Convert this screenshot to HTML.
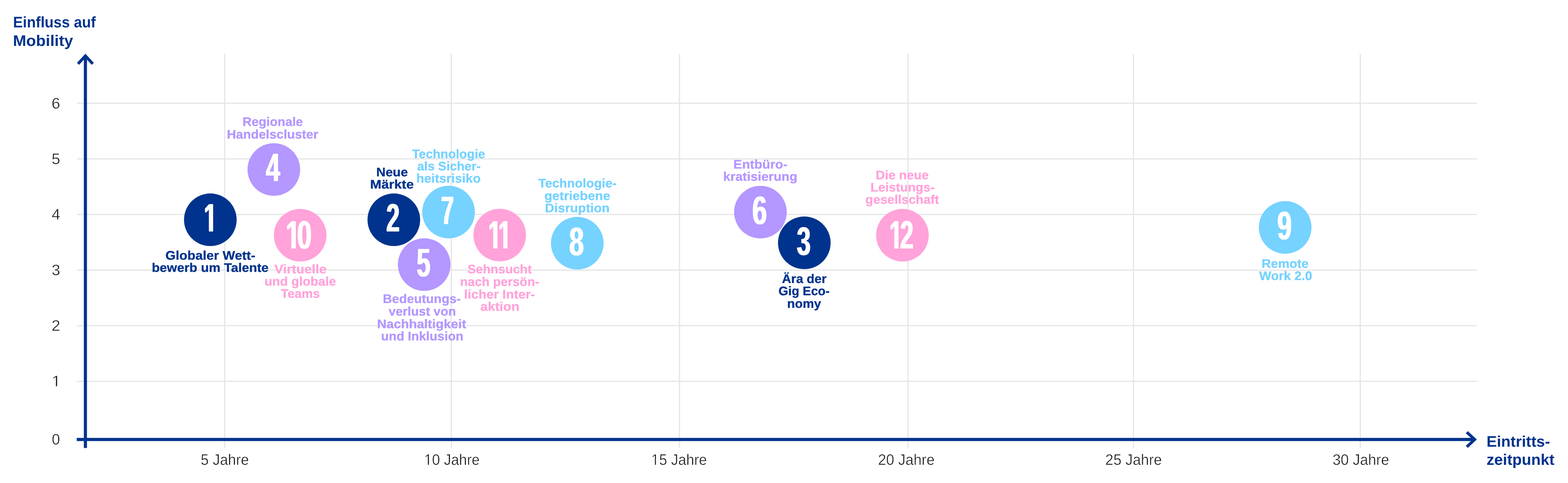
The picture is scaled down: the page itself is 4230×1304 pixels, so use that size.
<!DOCTYPE html>
<html lang="de">
<head>
<meta charset="utf-8">
<title>Einfluss auf Mobility / Eintrittszeitpunkt</title>
<style>
html,body{margin:0;padding:0;background:#fff;}
body{width:4230px;height:1304px;overflow:hidden;}
svg{display:block;}
text{font-family:"Liberation Sans",sans-serif;text-rendering:geometricPrecision;}
.lb{font-weight:bold;font-size:33.5px;stroke-width:0.5;stroke-linejoin:round;}
.tt{font-weight:bold;font-size:41.5px;fill:#00338D;}
.ax{font-weight:normal;font-size:41px;fill:#1d1d1b;stroke:#fff;stroke-width:0.6;stroke-linejoin:round;}
.dg{font-weight:bold;font-size:104px;fill:#fff;font-kerning:none;}
</style>
</head>
<body>
<svg width="4230" height="1304" viewBox="0 0 4230 1304">
<defs>
<filter id="cond" x="-5%" y="-5%" width="110%" height="110%" color-interpolation-filters="sRGB">
<feOffset in="SourceGraphic" dy="1" result="d"/>
<feComposite in="SourceGraphic" in2="d" operator="in" result="e"/>
<feOffset in="e" dx="-2" result="l2"/>
<feOffset in="e" dx="-1" result="l1"/>
<feOffset in="e" dx="1" result="r1"/>
<feMerge><feMergeNode in="l2"/><feMergeNode in="l1"/><feMergeNode in="e"/><feMergeNode in="r1"/></feMerge>
</filter>
<filter id="gray" filterUnits="userSpaceOnUse" x="0" y="0" width="4230" height="1304" color-interpolation-filters="sRGB"><feOffset dx="0" dy="0"/></filter>
<clipPath id="c1"><rect x="2.62" y="-80" width="32.03" height="68.99"/><rect x="20.39" y="-11.11" width="14.27" height="12.11"/></clipPath>
<clipPath id="c10"><rect x="1.19" y="-80" width="32.03" height="68.99"/><rect x="18.95" y="-11.11" width="14.27" height="12.11"/><rect x="44.24" y="-80" width="53.66" height="68.99"/><rect x="49.92" y="-11.11" width="47.98" height="14.11"/></clipPath>
<clipPath id="c11"><rect x="2.72" y="-80" width="32.03" height="68.99"/><rect x="20.49" y="-11.11" width="14.27" height="12.11"/><rect x="47.29" y="-80" width="32.03" height="68.99"/><rect x="65.05" y="-11.11" width="14.27" height="12.11"/></clipPath>
<clipPath id="c12"><rect x="2.6" y="-80" width="32.03" height="68.99"/><rect x="20.36" y="-11.11" width="14.27" height="12.11"/><rect x="47.02" y="-80" width="54.27" height="83"/></clipPath>
</defs>
<rect width="4230" height="1304" fill="#fff"/>
<g stroke="#e4e4e4" stroke-width="3" fill="none">
<line x1="207.5" y1="278.7" x2="3984.5" y2="278.7"/>
<line x1="207.5" y1="428.9" x2="3984.5" y2="428.9"/>
<line x1="207.5" y1="579" x2="3984.5" y2="579"/>
<line x1="207.5" y1="729.2" x2="3984.5" y2="729.2"/>
<line x1="207.5" y1="879.3" x2="3984.5" y2="879.3"/>
<line x1="207.5" y1="1029.5" x2="3984.5" y2="1029.5"/>
<line x1="606" y1="145.4" x2="606" y2="1209.5"/>
<line x1="1217.5" y1="145.4" x2="1217.5" y2="1209.5"/>
<line x1="1833.1" y1="145.4" x2="1833.1" y2="1209.5"/>
<line x1="2449.5" y1="145.4" x2="2449.5" y2="1209.5"/>
<line x1="3057.8" y1="145.4" x2="3057.8" y2="1209.5"/>
<line x1="3669.5" y1="145.4" x2="3669.5" y2="1209.5"/>
</g>
<g stroke="#00338D" stroke-width="8.4" fill="none">
<line x1="230.4" y1="151" x2="230.4" y2="1209.5"/>
<line x1="207" y1="1186.55" x2="3978" y2="1186.55"/>
<polyline points="210.5,172.4 230.4,150.9 250.3,172.4" stroke-width="7.9" stroke-linejoin="miter" stroke-miterlimit="10"/>
<polyline points="3957,1166.8 3978.3,1186.6 3957,1206.4" stroke-width="7.9" stroke-linejoin="miter" stroke-miterlimit="10"/>
</g>
<g>
<circle cx="567.4" cy="593.3" r="71" fill="#00338D"/>
<circle cx="738.7" cy="457.7" r="71" fill="#B497FF"/>
<circle cx="809.8" cy="635.1" r="71" fill="#FFA3DA"/>
<circle cx="1062.4" cy="593.3" r="71" fill="#00338D"/>
<circle cx="1210.1" cy="572.5" r="71" fill="#76D2FF"/>
<circle cx="1144.4" cy="714.3" r="71" fill="#B497FF"/>
<circle cx="1348.1" cy="634.7" r="71" fill="#FFA3DA"/>
<circle cx="1557.3" cy="656.6" r="71" fill="#76D2FF"/>
<circle cx="2051.4" cy="572.7" r="71" fill="#B497FF"/>
<circle cx="2169.8" cy="655.6" r="71" fill="#00338D"/>
<circle cx="2434.5" cy="635" r="71" fill="#FFA3DA"/>
<circle cx="3467" cy="614" r="71" fill="#76D2FF"/>
</g>
<g class="dg" filter="url(#cond)">
<text transform="matrix(0.6204 0 0 1.0440 552.7 625.3)" x="-3.89" y="0" clip-path="url(#c1)">1</text>
<text transform="matrix(0.6552 0 0 1.0454 717.1 489.4)" x="1.48" y="0">4</text>
<text transform="matrix(0.6712 0 0 1.0398 775 671.1)" x="-5.32 40.73" y="0" clip-path="url(#c10)">10</text>
<text transform="matrix(0.6191 0 0 1.0411 1043.1 625.3)" x="-0.38" y="0">2</text>
<text transform="matrix(0.5984 0 0 1.0398 1191 605.2)" x="-1.13" y="0">7</text>
<text transform="matrix(0.6339 0 0 1.0446 1124.7 746.34)" x="-0.04" y="0">5</text>
<text transform="matrix(0.6092 0 0 1.0398 1319.8 671.1)" x="-3.79 40.78" y="0" clip-path="url(#c11)">11</text>
<text transform="matrix(0.6778 0 0 1.0430 1536.6 689.04)" x="-0.35" y="0">8</text>
<text transform="matrix(0.6803 0 0 1.0444 2030.5 605.34)" x="-0.87" y="0">6</text>
<text transform="matrix(0.6403 0 0 1.0422 2149.8 688.18)" x="0.74" y="0">3</text>
<text transform="matrix(0.6159 0 0 1.0398 2401.8 671.1)" x="-3.91 44.01" y="0" clip-path="url(#c12)">12</text>
<text transform="matrix(0.6730 0 0 1.0430 3446.6 646.04)" x="-0.63" y="0">9</text>
</g>
<g filter="url(#gray)">
<g class="lb">
<text transform="matrix(1.0175 0 0 1 654.17 340.4)" fill="#B497FF" stroke="#B497FF">Regionale</text>
<text transform="matrix(1.0269 0 0 1 611.95 373.8)" fill="#B497FF" stroke="#B497FF">Handelscluster</text>
<text transform="matrix(1.0624 0 0 1 446.17 700.5)" fill="#00338D" stroke="#00338D">Globaler Wett-</text>
<text transform="matrix(1.0473 0 0 1 409.41 733.5)" fill="#00338D" stroke="#00338D">bewerb um Talente</text>
<text transform="matrix(1.0700 0 0 1 740.2 737.5)" fill="#FFA3DA" stroke="#FFA3DA">Virtuelle</text>
<text transform="matrix(1.0251 0 0 1 713.61 771)" fill="#FFA3DA" stroke="#FFA3DA">und globale</text>
<text transform="matrix(1.0171 0 0 1 757.55 804.3)" fill="#FFA3DA" stroke="#FFA3DA">Teams</text>
<text transform="matrix(1.0430 0 0 1 1014.91 475.6)" fill="#00338D" stroke="#00338D">Neue</text>
<text transform="matrix(1.0895 0 0 1 998.62 509)" fill="#00338D" stroke="#00338D">Märkte</text>
<text transform="matrix(1.0116 0 0 1 1111.65 426.5)" fill="#76D2FF" stroke="#76D2FF">Technologie</text>
<text transform="matrix(1.0092 0 0 1 1125.44 460)" fill="#76D2FF" stroke="#76D2FF">als Sicher-</text>
<text transform="matrix(1.0359 0 0 1 1123.03 493)" fill="#76D2FF" stroke="#76D2FF">heitsrisiko</text>
<text transform="matrix(1.0270 0 0 1 1032.75 818.3)" fill="#B497FF" stroke="#B497FF">Bedeutungs-</text>
<text transform="matrix(1.0158 0 0 1 1048.5 852)" fill="#B497FF" stroke="#B497FF">verlust von</text>
<text transform="matrix(1.0496 0 0 1 1017.3 885.5)" fill="#B497FF" stroke="#B497FF">Nachhaltigkeit</text>
<text transform="matrix(1.0208 0 0 1 1027.91 918.5)" fill="#B497FF" stroke="#B497FF">und Inklusion</text>
<text transform="matrix(1.0126 0 0 1 1261.14 738.2)" fill="#FFA3DA" stroke="#FFA3DA">Sehnsucht</text>
<text transform="matrix(1.0166 0 0 1 1240.97 772)" fill="#FFA3DA" stroke="#FFA3DA">nach persön-</text>
<text transform="matrix(1.0499 0 0 1 1251.7 805.5)" fill="#FFA3DA" stroke="#FFA3DA">licher Inter-</text>
<text transform="matrix(1.0698 0 0 1 1295.8 838.6)" fill="#FFA3DA" stroke="#FFA3DA">aktion</text>
<text transform="matrix(1.0266 0 0 1 1452.14 506.2)" fill="#76D2FF" stroke="#76D2FF">Technologie-</text>
<text transform="matrix(1.0499 0 0 1 1468.39 539.7)" fill="#76D2FF" stroke="#76D2FF">getriebene</text>
<text transform="matrix(1.0418 0 0 1 1470.12 573.2)" fill="#76D2FF" stroke="#76D2FF">Disruption</text>
<text transform="matrix(1.0447 0 0 1 1978.61 455.3)" fill="#B497FF" stroke="#B497FF">Entbüro-</text>
<text transform="matrix(1.0445 0 0 1 1950.81 488.1)" fill="#B497FF" stroke="#B497FF">kratisierung</text>
<text transform="matrix(1.0254 0 0 1 2109.53 764)" fill="#00338D" stroke="#00338D">Ära der</text>
<text transform="matrix(1.0007 0 0 1 2100.35 797)" fill="#00338D" stroke="#00338D">Gig Eco-</text>
<text transform="matrix(1.0246 0 0 1 2123.55 830.5)" fill="#00338D" stroke="#00338D">nomy</text>
<text transform="matrix(1.0223 0 0 1 2362.56 483.6)" fill="#FFA3DA" stroke="#FFA3DA">Die neue</text>
<text transform="matrix(1.0226 0 0 1 2348.25 517)" fill="#FFA3DA" stroke="#FFA3DA">Leistungs-</text>
<text transform="matrix(1.0257 0 0 1 2334.62 550.3)" fill="#FFA3DA" stroke="#FFA3DA">gesellschaft</text>
<text transform="matrix(1.0325 0 0 1 3403.43 723.2)" fill="#76D2FF" stroke="#76D2FF">Remote</text>
<text transform="matrix(1.0275 0 0 1 3396.96 756.1)" fill="#76D2FF" stroke="#76D2FF">Work 2.0</text>
</g>
<g class="tt">
<text transform="matrix(0.9484 0 0 1 35.29 73.7)">Einfluss auf</text>
<text transform="matrix(1.0341 0 0 1 35.06 123.5)">Mobility</text>
<text transform="matrix(1.0057 0 0 1 4010.13 1205.8)">Eintritts-</text>
<text transform="matrix(1.0058 0 0 1 4010.24 1255)">zeitpunkt</text>
</g>
<g class="ax">
<text transform="matrix(0.9487 0 0 1 541.6 1255)">5 Jahre</text>
<text transform="matrix(0.9383 0 0 1 1144.22 1255)" clip-path="url(#a10Jahre)">10 Jahre</text>
<text transform="matrix(0.9409 0 0 1 1756.81 1255)" clip-path="url(#a15Jahre)">15 Jahre</text>
<text transform="matrix(0.9546 0 0 1 2368.85 1255)">20 Jahre</text>
<text transform="matrix(0.9559 0 0 1 2981.85 1255)">25 Jahre</text>
<text transform="matrix(0.9563 0 0 1 3594.89 1255)">30 Jahre</text>
</g>
<g class="ax">
<text transform="matrix(1.0247 0 0 1 139.04 292.5)">6</text>
<text transform="matrix(1.0187 0 0 1 139.16 442.7)">5</text>
<text transform="matrix(1.0200 0 0 1 139.32 592.8)">4</text>
<text transform="matrix(1.0080 0 0 1 139.38 743)">3</text>
<text transform="matrix(1.0356 0 0 1 139.07 893.1)">2</text>
<text transform="matrix(1.0437 0 0 1 139.67 1043.3)" clip-path="url(#a1)">1</text>
<text transform="matrix(0.9684 0 0 1 139.66 1200.4)">0</text>
</g>
</g>
<defs><clipPath id="a10Jahre"><rect x="0" y="-45" width="22.8" height="41.64"/><rect x="10.61" y="-3.46" width="3.02" height="5.46"/><rect x="22.8" y="-45" width="400" height="60"/></clipPath><clipPath id="a15Jahre"><rect x="0" y="-45" width="22.8" height="41.64"/><rect x="10.61" y="-3.46" width="3.02" height="5.46"/><rect x="22.8" y="-45" width="400" height="60"/></clipPath><clipPath id="a1"><rect x="0" y="-45" width="22.8" height="41.64"/><rect x="10.61" y="-3.46" width="3.02" height="5.46"/></clipPath></defs>
</svg>
</body>
</html>
